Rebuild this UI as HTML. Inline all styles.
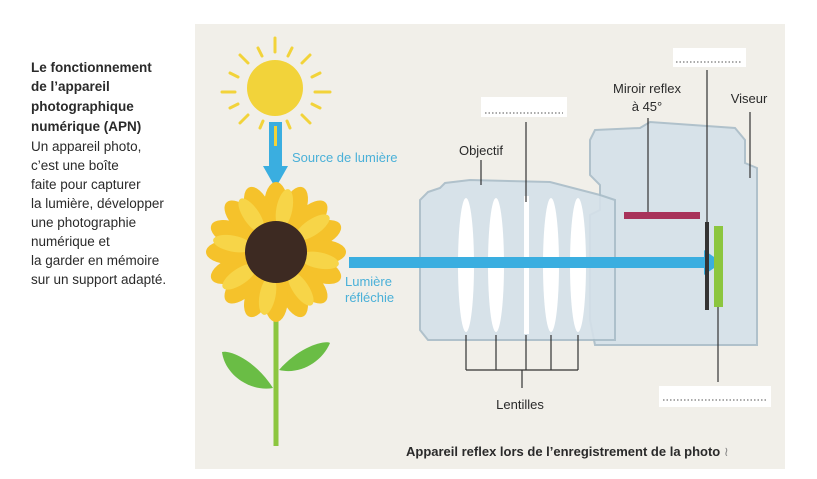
<!DOCTYPE html>
<html><head><meta charset="utf-8"><style>
html,body{margin:0;padding:0;background:#fff;width:817px;height:479px;overflow:hidden}
svg{display:block;font-family:"Liberation Sans",sans-serif}
</style></head><body>
<svg width="817" height="479" viewBox="0 0 817 479">
<rect x="0" y="0" width="817" height="479" fill="#ffffff"/>
<rect x="195" y="24" width="590" height="445" fill="#f1efe9"/>
<g font-size="13.5" fill="#2a2a2a">
<g font-weight="bold">
<text x="31" y="72">Le fonctionnement</text>
<text x="31" y="91">de l’appareil</text>
<text x="31" y="111">photographique</text>
<text x="31" y="131">numérique (APN)</text>
</g>
<text x="31" y="151">Un appareil photo,</text>
<text x="31" y="170">c’est une boîte</text>
<text x="31" y="189">faite pour capturer</text>
<text x="31" y="208">la lumière, développer</text>
<text x="31" y="227">une photographie</text>
<text x="31" y="246">numérique et</text>
<text x="31" y="265">la garder en mémoire</text>
<text x="31" y="284">sur un support adapté.</text>
</g>
<g stroke="#f2d33a" stroke-width="3" stroke-linecap="round">
<circle cx="275" cy="88" r="28" fill="#f2d33a" stroke="none"/>
<line x1="275" y1="38" x2="275" y2="52"/>
<line x1="222" y1="92" x2="235" y2="92"/><line x1="315" y1="92" x2="330" y2="92"/>
<line x1="240" y1="55" x2="248" y2="63"/><line x1="310" y1="55" x2="302" y2="63"/>
<line x1="240" y1="123" x2="248" y2="115"/><line x1="310" y1="123" x2="302" y2="115"/>
<line x1="258" y1="48" x2="262" y2="56"/><line x1="292" y1="48" x2="288" y2="56"/>
<line x1="230" y1="73" x2="238" y2="77"/><line x1="320" y1="73" x2="312" y2="77"/>
<line x1="230" y1="108" x2="238" y2="104"/><line x1="320" y1="108" x2="312" y2="104"/>
<line x1="260" y1="128" x2="263" y2="121"/><line x1="290" y1="128" x2="287" y2="121"/>
</g>
<g>
<rect x="269" y="122" width="13" height="45" fill="#3aaee0"/>
<rect x="274" y="126" width="3" height="20" fill="#f2d33a"/>
<polygon points="263,166 288,166 275.5,188" fill="#3aaee0"/>
</g>
<text x="292" y="162" font-size="13" fill="#4ab0d8">Source de lumière</text>
<g>
<line x1="276" y1="300" x2="276" y2="446" stroke="#8cc63f" stroke-width="5"/>
<path d="M273,388 C255,360 230,350 222,352 C225,375 250,392 273,388Z" fill="#6abd45"/>
<path d="M279,370 C300,346 325,340 330,343 C322,362 300,375 279,370Z" fill="#6abd45"/>
<g transform="translate(276,252)">
<g fill="#f5c22b">
<ellipse cx="0" cy="-46" rx="12" ry="24"/>
<ellipse cx="0" cy="-46" rx="12" ry="24" transform="rotate(22.5)"/>
<ellipse cx="0" cy="-46" rx="12" ry="24" transform="rotate(45)"/>
<ellipse cx="0" cy="-46" rx="12" ry="24" transform="rotate(67.5)"/>
<ellipse cx="0" cy="-46" rx="12" ry="24" transform="rotate(90)"/>
<ellipse cx="0" cy="-46" rx="12" ry="24" transform="rotate(112.5)"/>
<ellipse cx="0" cy="-46" rx="12" ry="24" transform="rotate(135)"/>
<ellipse cx="0" cy="-46" rx="12" ry="24" transform="rotate(157.5)"/>
<ellipse cx="0" cy="-46" rx="12" ry="24" transform="rotate(180)"/>
<ellipse cx="0" cy="-46" rx="12" ry="24" transform="rotate(202.5)"/>
<ellipse cx="0" cy="-46" rx="12" ry="24" transform="rotate(225)"/>
<ellipse cx="0" cy="-46" rx="12" ry="24" transform="rotate(247.5)"/>
<ellipse cx="0" cy="-46" rx="12" ry="24" transform="rotate(270)"/>
<ellipse cx="0" cy="-46" rx="12" ry="24" transform="rotate(292.5)"/>
<ellipse cx="0" cy="-46" rx="12" ry="24" transform="rotate(315)"/>
<ellipse cx="0" cy="-46" rx="12" ry="24" transform="rotate(337.5)"/>
</g>
<g fill="#f7d548">
<ellipse cx="0" cy="-44" rx="8" ry="20" transform="rotate(11)"/>
<ellipse cx="0" cy="-44" rx="8" ry="20" transform="rotate(56)"/>
<ellipse cx="0" cy="-44" rx="8" ry="20" transform="rotate(101)"/>
<ellipse cx="0" cy="-44" rx="8" ry="20" transform="rotate(146)"/>
<ellipse cx="0" cy="-44" rx="8" ry="20" transform="rotate(191)"/>
<ellipse cx="0" cy="-44" rx="8" ry="20" transform="rotate(236)"/>
<ellipse cx="0" cy="-44" rx="8" ry="20" transform="rotate(281)"/>
<ellipse cx="0" cy="-44" rx="8" ry="20" transform="rotate(326)"/>
</g>
<circle r="31" fill="#3d2a22"/>
</g>
</g>
<g stroke="#a9bdc8" stroke-width="2" fill="#d5e1e9">
<path d="M595,130 L640,128 L650,122 L735,128 L745,140 L745,163 L757,168 L757,345 L595,345 L590,320 L590,215 L600,210 L600,185 L590,175 L590,140Z" opacity="0.9"/>
<path d="M428,192 L440,188 L445,183 L470,180 L550,182 L600,195 L615,200 L615,340 L428,340 L420,330 L420,200Z" opacity="0.9"/>
</g>
<g fill="#ffffff">
<ellipse cx="466" cy="265" rx="8" ry="67"/>
<ellipse cx="496" cy="265" rx="8" ry="67"/>
<rect x="524" y="196" width="5" height="138"/>
<ellipse cx="551" cy="265" rx="8" ry="67"/>
<ellipse cx="578" cy="265" rx="8" ry="67"/>
</g>
<g>
<rect x="349" y="257" width="360" height="11" fill="#3aaee0"/>
<polygon points="704,250 722,262.5 704,275" fill="#3aaee0"/>
</g>
<text x="345" y="286" font-size="13" fill="#4ab0d8">Lumière</text>
<text x="345" y="302" font-size="13" fill="#4ab0d8">réfléchie</text>
<rect x="624" y="212" width="76" height="7" fill="#a8325a"/>
<rect x="705" y="222" width="4" height="88" fill="#333"/>
<rect x="714" y="226" width="9" height="81" fill="#8cc63f"/>
<g stroke="#333" stroke-width="1.2" fill="none">
<line x1="481" y1="160" x2="481" y2="185"/>
<line x1="526" y1="122" x2="526" y2="202"/>
<line x1="648" y1="118" x2="648" y2="212"/>
<line x1="707" y1="70" x2="707" y2="222"/>
<line x1="750" y1="112" x2="750" y2="178"/>
<line x1="718" y1="307" x2="718" y2="382"/>
<path d="M466,335 V370 M496,335 V370 M526,335 V370 M551,335 V370 M578,335 V370 M466,370 H578 M522,370 V388"/>
</g>
<g>
<rect x="481" y="97" width="86" height="20" fill="#fff"/>
<line x1="485" y1="113" x2="563" y2="113" stroke="#555" stroke-dasharray="1.5,2"/>
<rect x="673" y="48" width="73" height="19" fill="#fff"/>
<line x1="676" y1="62" x2="742" y2="62" stroke="#555" stroke-dasharray="1.5,2"/>
<rect x="659" y="386" width="112" height="21" fill="#fff"/>
<line x1="663" y1="400" x2="766" y2="400" stroke="#555" stroke-dasharray="1.5,2"/>
</g>
<g font-size="13" fill="#2a2a2a">
<text x="481" y="155" text-anchor="middle">Objectif</text>
<text x="647" y="93" text-anchor="middle">Miroir reflex</text>
<text x="647" y="111" text-anchor="middle">à 45°</text>
<text x="749" y="103" text-anchor="middle">Viseur</text>
<text x="520" y="409" text-anchor="middle">Lentilles</text>
</g>
<text x="406" y="456" font-size="13" font-weight="bold" fill="#2a2a2a">Appareil reflex lors de l’enregistrement de la photo <tspan font-weight="normal" fill="#888">≀</tspan></text>
</svg>
</body></html>
